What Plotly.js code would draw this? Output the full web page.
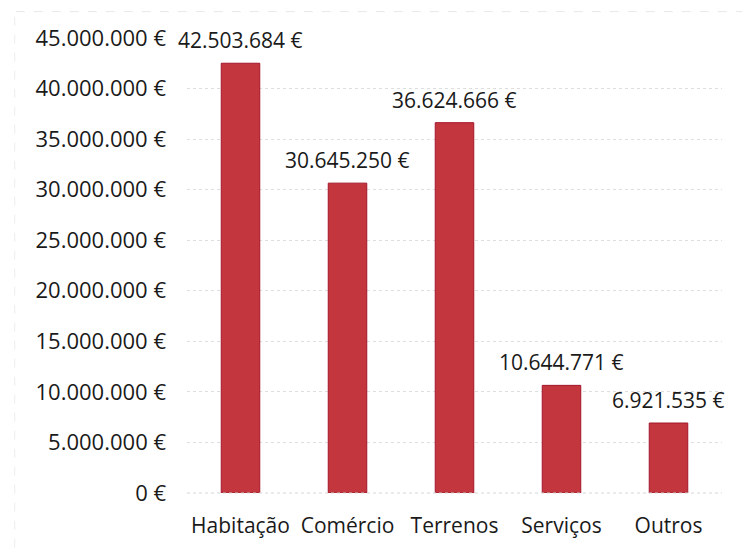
<!DOCTYPE html>
<html>
<head>
<meta charset="utf-8">
<script src="https://cdn.plot.ly/plotly-3.0.1.min.js"></script>
<style>html,body{margin:0;padding:0;background:#fff;}#chart{width:742px;height:549px;}</style>
</head>
<body>
<div id="chart"></div>
<script>
const categories = ["Habitação", "Comércio", "Terrenos", "Serviços", "Outros"];
const values = [42503684, 30645250, 36624666, 10644771, 6921535];
const valueLabels = ["42.503.684 €", "30.645.250 €", "36.624.666 €", "10.644.771 €", "6.921.535 €"];
const tickValues = [0, 5000000, 10000000, 15000000, 20000000, 25000000, 30000000, 35000000, 40000000, 45000000];
const tickLabels = ["0 €", "5.000.000 €", "10.000.000 €", "15.000.000 €", "20.000.000 €", "25.000.000 €", "30.000.000 €", "35.000.000 €", "40.000.000 €", "45.000.000 €"];

const FONT = "Open Sans, Lato, sans-serif";
const FS = 22;
const trace = {
  type: "bar",
  x: categories,
  y: values,
  width: 0.36,
  marker: {color: "#c4363d", line: {color: "#a3162a", width: 1}},
  hoverinfo: "none"
};
const annotations = categories.map((c, i) => ({
  x: c, y: values[i], xref: "x", yref: "y",
  text: valueLabels[i], showarrow: false,
  yanchor: "bottom", yshift: 7,
  font: {family: FONT, size: 21, color: "#1a1a1a"}
}));
const layout = {
  width: 742, height: 549,
  margin: {l: 187, r: 20, t: 38, b: 56, autoexpand: false},
  paper_bgcolor: "#ffffff", plot_bgcolor: "#ffffff",
  showlegend: false,
  font: {family: FONT, size: FS, color: "#1a1a1a"},
  xaxis: {
    range: [-0.5, categories.length - 0.5], autorange: false,
    showgrid: false, showline: false, zeroline: false,
    ticks: "", ticklabelstandoff: 18, tickangle: 0, automargin: false,
    tickfont: {family: FONT, size: 21, color: "#1a1a1a"}
  },
  yaxis: {
    range: [0, 45000000], autorange: false, automargin: false,
    tickvals: tickValues, ticktext: tickLabels,
    showgrid: true, gridcolor: "#dedede", gridwidth: 1, griddash: "dot",
    zeroline: false, showline: false, ticks: "",
    ticklabelstandoff: 20,
    tickfont: {family: FONT, size: FS, color: "#1a1a1a"}
  },
  annotations: annotations,
  shapes: [
    {type: "line", xref: "paper", yref: "paper", x0: 0, x1: 1, y0: 0, y1: 0, line: {color: "#d6d6d6", width: 1, dash: "dot"}},
    {type: "line", xref: "paper", yref: "paper", x0: -0.32, x1: 1.04, y0: 1.058, y1: 1.058, line: {color: "#e8e8e8", width: 1, dash: "dash"}},
    {type: "line", xref: "paper", yref: "paper", x0: -0.322, x1: -0.322, y0: -0.12, y1: 1.058, line: {color: "#ececec", width: 1, dash: "dash"}}
  ]
};
Plotly.newPlot("chart", [trace], layout, {displayModeBar: false, staticPlot: true});
</script>
</body>
</html>
